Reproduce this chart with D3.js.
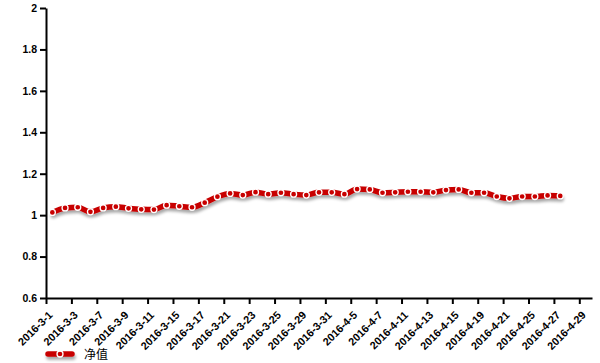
<!DOCTYPE html>
<html>
<head>
<meta charset="utf-8">
<script src="https://cdn.jsdelivr.net/npm/d3@7/dist/d3.min.js"></script>
<style>
  html, body { margin: 0; padding: 0; background: #fff; }
  svg { display: block; }
</style>
</head>
<body>
<svg id="chart" width="600" height="363"></svg>
<script>
const dates = ["2016-3-1","2016-3-2","2016-3-3","2016-3-4","2016-3-7","2016-3-8","2016-3-9","2016-3-10","2016-3-11",
  "2016-3-14","2016-3-15","2016-3-16","2016-3-17","2016-3-18","2016-3-21","2016-3-22","2016-3-23","2016-3-24","2016-3-25",
  "2016-3-28","2016-3-29","2016-3-30","2016-3-31","2016-4-1","2016-4-5","2016-4-6","2016-4-7","2016-4-8",
  "2016-4-11","2016-4-12","2016-4-13","2016-4-14","2016-4-15","2016-4-18","2016-4-19","2016-4-20","2016-4-21","2016-4-22",
  "2016-4-25","2016-4-26","2016-4-27","2016-4-28","2016-4-29"];
const navValues = [1.013,1.035,1.038,1.016,1.035,1.041,1.033,1.028,1.027,1.048,1.043,1.038,1.060,1.089,1.105,1.097,
  1.111,1.101,1.108,1.101,1.097,1.110,1.110,1.101,1.126,1.124,1.108,1.110,1.113,1.113,1.110,1.121,1.124,1.108,1.108,
  1.090,1.081,1.090,1.090,1.095,1.093];
const yTicks = [0.6,0.8,1,1.2,1.4,1.6,1.8,2];
const seriesName = "净值";

(function () {
const svg = d3.select("#chart");
const mL = 46, mR = 592, mT = 8, mB = 298;
const lineColor = "#c80000";
const font = "'Liberation Sans', Arial, sans-serif";

const defs = svg.append("defs");
const f = defs.append("filter").attr("id","shadow").attr("filterUnits","userSpaceOnUse")
  .attr("x",0).attr("y",0).attr("width",600).attr("height",363);
f.append("feDropShadow").attr("dx",1).attr("dy",3).attr("stdDeviation",1.6)
  .attr("flood-color","#000").attr("flood-opacity",0.35);

const x = d3.scaleLinear().domain([0, dates.length]).range([mL, mR]);
const y = d3.scaleLinear().domain([0.6, 2]).range([mB, mT]);

// y axis
const yAxis = svg.append("g").attr("transform", `translate(${mL},0)`)
  .call(d3.axisLeft(y).tickValues(yTicks).tickSize(6).tickSizeOuter(0).tickPadding(3)
    .tickFormat(d => d3.format("~g")(d)));
yAxis.select(".domain").attr("stroke","#000").attr("stroke-width",2);
yAxis.selectAll(".tick line").attr("stroke","#000").attr("stroke-width",2);
yAxis.selectAll("text").attr("font-family",font).attr("font-weight","bold").attr("font-size",10.5).attr("fill","#000");

// x axis
const xTickIdx = d3.range(0, dates.length, 2);
const xAxis = svg.append("g").attr("transform", `translate(0,${mB})`)
  .call(d3.axisBottom(x).tickValues(xTickIdx).tickSize(6).tickSizeOuter(0)
    .tickFormat(i => dates[i]));
xAxis.select(".domain").attr("stroke","#000").attr("stroke-width",2);
xAxis.selectAll(".tick line").attr("stroke","#000").attr("stroke-width",2);
xAxis.selectAll("text").attr("font-family",font).attr("font-weight","bold").attr("font-size",10.8).attr("fill","#000")
  .attr("text-anchor","end").attr("x",0).attr("y",0).attr("dy","0.35em")
  .attr("transform","translate(4,15) rotate(-45)");

// series
const pts = navValues.map((v,i) => ({i, v}));
const line = d3.line().x(d => x(d.i + 0.5)).y(d => y(d.v)).curve(d3.curveMonotoneX);
const sg = svg.append("g").attr("filter","url(#shadow)");
sg.append("path").datum(pts).attr("d", line).attr("fill","none")
  .attr("stroke", lineColor).attr("stroke-width",5.5).attr("stroke-linejoin","round").attr("stroke-linecap","round");
svg.append("g").selectAll("circle").data(pts).join("circle")
  .attr("cx", d => x(d.i + 0.5)).attr("cy", d => y(d.v)).attr("r",3)
  .attr("fill", lineColor).attr("stroke","#fff").attr("stroke-width",1.3);

// legend
const lg = svg.append("g");
lg.append("path").attr("d","M48,354H72")
  .attr("stroke",lineColor).attr("stroke-width",5.5).attr("stroke-linecap","round").attr("filter","url(#shadow)");
lg.append("circle").attr("cx",60).attr("cy",354).attr("r",3).attr("fill",lineColor).attr("stroke","#fff").attr("stroke-width",1.3);
lg.append("text").attr("x",84).attr("y",358.5).text(seriesName)
  .attr("font-family","'Noto Sans CJK SC', sans-serif").attr("font-size",12).attr("fill","#000");
})();
</script>
</body>
</html>
